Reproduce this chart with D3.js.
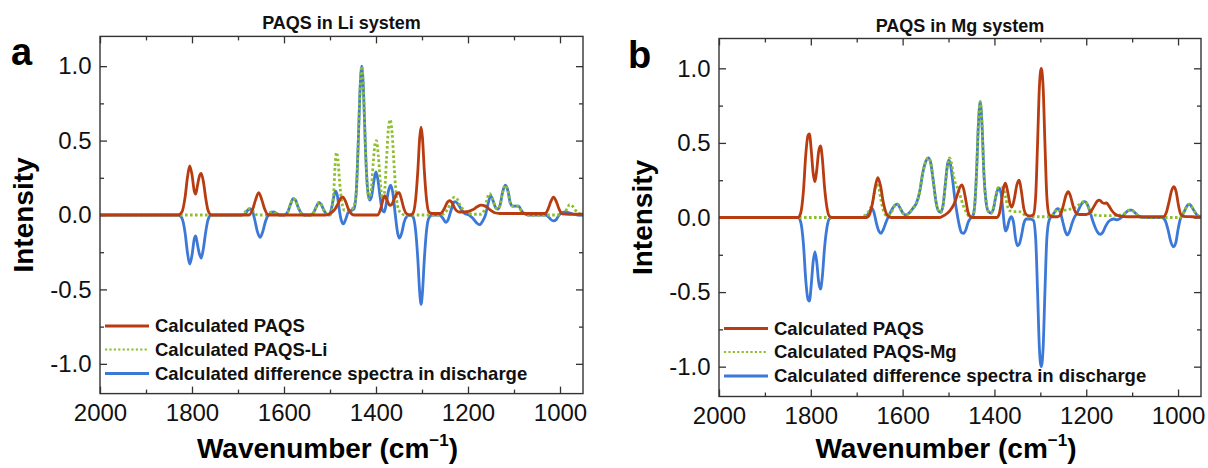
<!DOCTYPE html>
<html>
<head>
<meta charset="utf-8">
<script src="https://cdn.jsdelivr.net/npm/d3@7"></script>
<style>
  html, body { margin: 0; padding: 0; background: #fff; }
  svg { display: block; }
</style>
</head>
<body>
<div id="chart"></div>
<script>
// axis ticks
const xTickValues = [2000, 1800, 1600, 1400, 1200, 1000];
const xMinorValues = [1900, 1700, 1500, 1300, 1100];
const yTickValues = [1.0, 0.5, 0.0, -0.5, -1.0];
const yTickLabels = ['1.0', '0.5', '0.0', '-0.5', '-1.0'];
const yMinorValues = [0.75, 0.25, -0.25, -0.75];

const panelTitles = ['PAQS in Li system', 'PAQS in Mg system'];
const panelLetters = ['a', 'b'];
const liLegend = ['Calculated PAQS', 'Calculated PAQS-Li', 'Calculated difference spectra in discharge'];
const mgLegend = ['Calculated PAQS', 'Calculated PAQS-Mg', 'Calculated difference spectra in discharge'];

// [wavenumber, intensity]
const liPaqs = [[2000,0],[1830,0],[1822,0.02],[1815,0.12],[1810,0.25],[1805,0.33],[1800,0.27],[1795,0.16],[1792,0.14],[1788,0.2],[1784,0.26],[1780,0.28],[1775,0.22],[1770,0.11],[1765,0.03],[1758,0],
  [1676,0],[1668,0.04],[1662,0.1],[1655,0.15],[1648,0.1],[1642,0.04],[1634,0],
  [1510,0],[1500,0.01],[1490,0.035],[1482,0.08],[1476,0.115],[1472,0.12],[1466,0.09],[1460,0.04],[1454,0.01],[1448,0],
  [1396,0],[1390,0.04],[1384,0.11],[1381,0.13],[1376,0.1],[1370,0.065],[1366,0.07],[1360,0.11],[1354,0.145],[1350,0.15],[1345,0.11],[1340,0.05],[1334,0.01],[1326,0],
  [1320,0.01],[1314,0.1],[1309,0.3],[1305,0.52],[1302,0.59],[1299,0.52],[1295,0.3],[1290,0.1],[1285,0.02],[1278,0.01],
  [1260,0.01],[1252,0.04],[1245,0.085],[1240,0.097],[1235,0.085],[1228,0.04],[1220,0.02],[1205,0.02],[1190,0.035],[1180,0.055],[1172,0.066],[1162,0.06],[1152,0.035],[1142,0.015],[1130,0.01],
  [1032,0.01],[1026,0.04],[1020,0.09],[1014,0.12],[1008,0.09],[1002,0.04],[996,0.01],[980,0.005],[950,0.005]];

const liPaqsLi = [[2000,0],[1695,0],[1688,0.01],[1680,0.035],[1674,0.045],[1668,0.03],[1662,0.005],[1656,0],[1640,0],[1634,0.01],[1627,0.02],[1620,0.015],[1612,0],
  [1600,0],[1592,0.02],[1586,0.07],[1580,0.11],[1575,0.1],[1569,0.05],[1562,0.01],[1556,0],
  [1542,0],[1535,0.02],[1529,0.06],[1524,0.085],[1519,0.07],[1513,0.03],[1507,0.005],[1500,0],
  [1496,0.03],[1492,0.15],[1489,0.33],[1486,0.42],[1483,0.38],[1479,0.22],[1474,0.08],[1468,0.03],[1460,0.03],[1452,0.04],[1446,0.08],[1442,0.2],[1439,0.45],[1435,0.82],[1431,1.0],[1427,0.82],[1423,0.45],[1419,0.2],[1415,0.11],[1411,0.15],[1406,0.35],[1402,0.48],[1399,0.5],[1395,0.4],[1390,0.2],[1386,0.11],[1382,0.14],[1377,0.38],[1373,0.58],[1369,0.64],[1365,0.55],[1360,0.3],[1355,0.1],[1350,0.03],[1344,0.01],[1338,0],
  [1262,0],[1252,0.01],[1244,0.04],[1236,0.09],[1230,0.12],[1224,0.11],[1218,0.07],[1210,0.035],[1200,0.015],[1190,0.005],[1172,0.005],[1165,0.03],[1159,0.1],[1153,0.145],[1147,0.11],[1140,0.05],[1135,0.04],[1130,0.07],[1125,0.15],[1119,0.2],[1113,0.16],[1108,0.08],[1103,0.06],[1096,0.06],[1090,0.06],[1084,0.03],[1078,0.01],[1070,0],
  [1000,0],[992,0.01],[985,0.04],[979,0.07],[973,0.06],[966,0.03],[958,0.01],[950,0]];

const liDiff = [[2000,0],[1830,0],[1822,-0.02],[1815,-0.12],[1810,-0.25],[1805,-0.33],[1800,-0.27],[1795,-0.16],[1792,-0.14],[1788,-0.2],[1784,-0.26],[1780,-0.29],[1775,-0.22],[1770,-0.11],[1765,-0.03],[1758,0],
  [1692,0],[1684,0.01],[1678,0.035],[1673,0.04],[1668,0.02],[1663,-0.04],[1658,-0.11],[1652,-0.15],[1646,-0.11],[1640,-0.04],[1634,0],[1628,0.015],[1622,0.02],[1616,0.01],[1608,0],
  [1600,0],[1592,0.02],[1586,0.07],[1580,0.11],[1575,0.1],[1569,0.05],[1562,0.01],[1556,0],
  [1542,0],[1535,0.02],[1529,0.06],[1524,0.085],[1519,0.07],[1513,0.03],[1507,0.005],[1502,0],
  [1497,0.04],[1492,0.12],[1488,0.16],[1484,0.13],[1480,0.04],[1476,-0.03],[1471,-0.06],[1466,-0.03],[1460,0.02],[1454,0.03],[1448,0.04],[1443,0.15],[1439,0.45],[1435,0.82],[1431,1.0],[1427,0.82],[1423,0.45],[1419,0.2],[1414,0.1],[1410,0.12],[1405,0.22],[1400,0.29],[1396,0.24],[1391,0.12],[1386,0.03],[1382,0.02],[1378,0.07],[1373,0.16],[1368,0.2],[1363,0.14],[1358,0],[1353,-0.12],[1349,-0.155],[1344,-0.12],[1339,-0.05],[1333,-0.01],[1326,0],
  [1320,-0.01],[1314,-0.1],[1309,-0.3],[1305,-0.52],[1302,-0.6],[1299,-0.52],[1295,-0.3],[1290,-0.1],[1285,-0.02],[1278,0],
  [1262,0],[1255,-0.02],[1248,-0.05],[1243,-0.03],[1237,0.03],[1232,0.08],[1228,0.09],[1222,0.075],[1215,0.04],[1207,0.01],[1198,0],[1190,-0.02],[1182,-0.05],[1175,-0.065],[1168,-0.04],[1162,0],[1156,0.08],[1151,0.13],[1146,0.1],[1140,0.05],[1135,0.04],[1130,0.07],[1125,0.15],[1119,0.2],[1113,0.16],[1108,0.08],[1103,0.06],[1096,0.06],[1090,0.06],[1084,0.03],[1078,0.01],[1070,0],
  [1032,0],[1026,-0.01],[1020,-0.03],[1014,-0.04],[1008,-0.03],[1002,0],[996,0.015],[988,0.02],[980,0.015],[970,0.005],[960,0],[950,0]];

const mgPaqs = [[2000,0],[1828,0],[1822,0.03],[1816,0.18],[1811,0.42],[1806,0.55],[1803,0.56],[1799,0.45],[1795,0.3],[1791,0.24],[1787,0.32],[1783,0.44],[1779,0.48],[1775,0.4],[1770,0.2],[1765,0.07],[1760,0.01],[1754,0],
  [1678,0],[1672,0.02],[1666,0.09],[1660,0.2],[1654,0.267],[1648,0.21],[1642,0.1],[1636,0.03],[1630,0.005],[1624,0],
  [1520,0],[1512,0.01],[1504,0.025],[1496,0.05],[1488,0.09],[1481,0.15],[1475,0.205],[1471,0.218],[1467,0.19],[1462,0.11],[1457,0.03],[1451,0.003],[1445,0],
  [1395,0],[1390,0.02],[1385,0.1],[1380,0.2],[1376,0.23],[1371,0.17],[1366,0.09],[1362,0.07],[1357,0.12],[1351,0.22],[1346,0.25],[1341,0.17],[1336,0.06],[1330,0.018],[1322,0.01],[1315,0.02],[1310,0.15],[1306,0.5],[1302,0.88],[1298,1.0],[1294,0.88],[1290,0.5],[1286,0.15],[1281,0.02],[1274,0.005],
  [1262,0.005],[1256,0.02],[1250,0.08],[1244,0.15],[1239,0.173],[1234,0.14],[1228,0.07],[1222,0.03],[1215,0.02],[1200,0.02],[1190,0.04],[1182,0.08],[1176,0.11],[1171,0.117],[1165,0.1],[1160,0.095],[1156,0.098],[1151,0.08],[1144,0.045],[1136,0.02],[1127,0.01],[1110,0.005],
  [1032,0.005],[1026,0.03],[1020,0.1],[1014,0.18],[1009,0.206],[1004,0.17],[999,0.08],[994,0.02],[988,0.008],[970,0.005],[950,0.003]];

const mgPaqsMg = [[2000,0],[1695,0],[1688,0.005],[1680,0.02],[1674,0.04],[1669,0.07],[1664,0.12],[1660,0.19],[1656,0.22],[1652,0.2],[1648,0.13],[1643,0.06],[1638,0.02],[1632,0.01],[1626,0.03],[1620,0.06],[1616,0.085],[1611,0.09],[1605,0.06],[1598,0.025],[1592,0.017],[1586,0.03],[1578,0.06],[1570,0.095],[1563,0.17],[1556,0.3],[1549,0.38],[1544,0.4],[1539,0.37],[1533,0.24],[1527,0.1],[1521,0.04],[1517,0.035],[1512,0.08],[1507,0.22],[1502,0.35],[1498,0.4],[1494,0.37],[1489,0.28],[1484,0.22],[1479,0.19],[1474,0.14],[1468,0.08],[1462,0.04],[1456,0.01],[1450,0.005],[1447,0.01],[1443,0.08],[1439,0.3],[1435,0.62],[1431,0.776],[1427,0.62],[1423,0.3],[1418,0.1],[1413,0.04],[1407,0.03],[1402,0.07],[1397,0.15],[1392,0.2],[1386,0.2],[1381,0.2],[1376,0.14],[1371,0.07],[1366,0.045],[1358,0.04],[1348,0.04],[1340,0.035],[1334,0.015],[1328,0.005],[1280,0.005],
  [1272,0.02],[1266,0.045],[1261,0.055],[1254,0.05],[1246,0.05],[1238,0.055],[1230,0.06],[1222,0.07],[1214,0.09],[1207,0.105],[1203,0.11],[1198,0.09],[1192,0.05],[1186,0.025],[1178,0.015],[1165,0.012],[1150,0.012],[1135,0.015],[1128,0.015],[1120,0.02],[1113,0.035],[1106,0.05],[1101,0.05],[1095,0.035],[1088,0.015],[1081,0.003],[1070,0],
  [995,0],[990,0.02],[985,0.05],[980,0.08],[975,0.09],[970,0.07],[964,0.04],[958,0.015],[950,0.005]];

const mgDiff = [[2000,0],[1828,0],[1822,-0.03],[1816,-0.18],[1811,-0.42],[1806,-0.55],[1803,-0.56],[1799,-0.45],[1795,-0.3],[1791,-0.23],[1787,-0.3],[1783,-0.43],[1779,-0.48],[1775,-0.4],[1770,-0.2],[1765,-0.07],[1760,-0.01],[1754,0],
  [1690,0],[1682,0.005],[1676,0.02],[1670,0.05],[1666,0.06],[1662,0.03],[1657,-0.04],[1652,-0.09],[1647,-0.106],[1642,-0.08],[1636,-0.03],[1629,0.02],[1622,0.06],[1616,0.085],[1611,0.09],[1605,0.06],[1598,0.025],[1592,0.017],[1586,0.03],[1578,0.06],[1570,0.095],[1563,0.17],[1556,0.3],[1549,0.38],[1544,0.4],[1539,0.37],[1533,0.24],[1527,0.1],[1521,0.04],[1517,0.035],[1512,0.08],[1507,0.22],[1503,0.34],[1500,0.385],[1496,0.36],[1491,0.25],[1486,0.12],[1481,0.02],[1476,-0.06],[1472,-0.1],[1467,-0.106],[1462,-0.08],[1457,-0.03],[1452,-0.005],[1447,0.01],[1443,0.08],[1439,0.3],[1435,0.62],[1431,0.776],[1427,0.62],[1423,0.3],[1418,0.1],[1413,0.04],[1407,0.03],[1402,0.06],[1397,0.14],[1392,0.19],[1389,0.196],[1385,0.15],[1381,0.03],[1378,-0.06],[1376,-0.09],[1372,-0.07],[1368,-0.02],[1363,0.005],[1358,-0.04],[1354,-0.14],[1350,-0.19],[1346,-0.18],[1341,-0.12],[1336,-0.04],[1330,-0.01],[1322,-0.01],[1315,-0.02],[1310,-0.15],[1306,-0.5],[1302,-0.88],[1298,-1.0],[1294,-0.88],[1290,-0.5],[1286,-0.15],[1281,-0.02],[1275,0.01],
  [1270,0.03],[1265,0.055],[1261,0.06],[1256,0.03],[1251,-0.03],[1246,-0.09],[1241,-0.117],[1236,-0.09],[1231,-0.04],[1226,0],[1220,0.03],[1214,0.07],[1208,0.1],[1203,0.106],[1198,0.09],[1192,0.04],[1186,-0.02],[1180,-0.07],[1175,-0.1],[1170,-0.113],[1164,-0.1],[1158,-0.06],[1152,-0.03],[1146,-0.015],[1140,-0.01],[1134,-0.015],[1128,-0.01],[1120,0.01],[1113,0.035],[1106,0.05],[1101,0.05],[1095,0.035],[1088,0.015],[1081,0.003],[1070,0],
  [1035,0],[1028,-0.02],[1022,-0.08],[1016,-0.16],[1010,-0.196],[1005,-0.17],[1000,-0.08],[995,-0.01],[990,0.02],[985,0.05],[980,0.08],[975,0.09],[970,0.07],[964,0.04],[958,0.015],[950,0.005]];

const FONT = '"Liberation Sans", Arial, Helvetica, sans-serif';
const RED = '#b83c10', GREEN = '#8cbf2a', BLUE = '#3b78d8', FRAME = '#333';

const svg = d3.select('#chart').append('svg')
    .attr('width', 1208)
    .attr('height', 468)
    .attr('font-family', FONT);

function drawPanel(opt) {
    const x = d3.scaleLinear().domain([2000, 950]).range([opt.left, opt.right]);
    const y = d3.scaleLinear().domain([-1.2, 1.2]).range([opt.bottom, opt.top]);
    const g = svg.append('g');

    g.append('clipPath').attr('id', 'clip-' + opt.letter)
        .append('rect')
        .attr('x', opt.left).attr('y', opt.top)
        .attr('width', opt.right - opt.left).attr('height', opt.bottom - opt.top);

    // ticks point inward on all four sides
    const axes = [
        { axis: d3.axisBottom(x).tickValues(xTickValues).tickFormat(d3.format('d')), pos: `translate(0,${opt.bottom})`, size: 7, pad: 10 },
        { axis: d3.axisBottom(x).tickValues(xMinorValues).tickFormat(''), pos: `translate(0,${opt.bottom})`, size: 4 },
        { axis: d3.axisTop(x).tickValues(xTickValues).tickFormat(''), pos: `translate(0,${opt.top})`, size: 7 },
        { axis: d3.axisTop(x).tickValues(xMinorValues).tickFormat(''), pos: `translate(0,${opt.top})`, size: 4 },
        { axis: d3.axisLeft(y).tickValues(yTickValues).tickFormat((d, i) => yTickLabels[i]), pos: `translate(${opt.left},0)`, size: 7, pad: 8.5 },
        { axis: d3.axisLeft(y).tickValues(yMinorValues).tickFormat(''), pos: `translate(${opt.left},0)`, size: 4 },
        { axis: d3.axisRight(y).tickValues(yTickValues).tickFormat(''), pos: `translate(${opt.right},0)`, size: 7 },
        { axis: d3.axisRight(y).tickValues(yMinorValues).tickFormat(''), pos: `translate(${opt.right},0)`, size: 4 }
    ];
    axes.forEach(a => {
        const ag = g.append('g')
            .attr('transform', a.pos)
            .call(a.axis.tickSize(-a.size).tickPadding(a.pad || 3));
        ag.attr('font-family', FONT).attr('font-size', 24).attr('color', FRAME);
        ag.select('.domain').remove();
        ag.selectAll('.tick line').attr('stroke-width', 1.3);
        ag.selectAll('.tick text').attr('fill', '#111');
    });

    const line = d3.line()
        .x(d => x(d[0]))
        .y(d => y(d[1]))
        .curve(d3.curveMonotoneX);

    const plot = g.append('g').attr('clip-path', `url(#clip-${opt.letter})`);
    plot.append('path').datum(opt.diff)
        .attr('d', line).attr('fill', 'none')
        .attr('stroke', BLUE).attr('stroke-width', 2.8).attr('stroke-linejoin', 'round');
    plot.append('path').datum(opt.ion)
        .attr('d', line).attr('fill', 'none')
        .attr('stroke', GREEN).attr('stroke-width', 2.8).attr('stroke-dasharray', '2.6,2.4');
    plot.append('path').datum(opt.paqs)
        .attr('d', line).attr('fill', 'none')
        .attr('stroke', RED).attr('stroke-width', 2.8).attr('stroke-linejoin', 'round');

    g.append('rect')
        .attr('x', opt.left).attr('y', opt.top)
        .attr('width', opt.right - opt.left).attr('height', opt.bottom - opt.top)
        .attr('fill', 'none').attr('stroke', FRAME).attr('stroke-width', 1.4);

    // legend
    const legendStyles = [
        { color: RED, dash: null },
        { color: GREEN, dash: '2.2,2.2' },
        { color: BLUE, dash: null }
    ];
    const rows = [111, 134.5, 158.5];
    opt.legend.forEach((label, i) => {
        const ly = y(0) + rows[i];
        g.append('line')
            .attr('x1', opt.left + 5).attr('x2', opt.left + 49)
            .attr('y1', ly).attr('y2', ly)
            .attr('stroke', legendStyles[i].color)
            .attr('stroke-width', i === 1 ? 2.2 : 2.8)
            .attr('stroke-dasharray', legendStyles[i].dash);
        g.append('text')
            .attr('x', opt.left + 55).attr('y', ly)
            .attr('dy', '0.35em')
            .attr('font-size', 18.5).attr('font-weight', 'bold')
            .attr('fill', '#111')
            .text(label);
    });

    const cx = (opt.left + opt.right) / 2;
    g.append('text')
        .attr('x', cx).attr('y', opt.top - 7)
        .attr('text-anchor', 'middle')
        .attr('font-size', 18).attr('font-weight', 'bold')
        .attr('fill', '#111')
        .text(opt.title);

    g.append('text')
        .attr('x', opt.letterX).attr('y', opt.top + 29)
        .attr('font-size', 38).attr('font-weight', 'bold')
        .attr('fill', '#000')
        .text(opt.letter);

    g.append('text')
        .attr('transform', `translate(${opt.left - 67},${(opt.top + opt.bottom) / 2}) rotate(-90)`)
        .attr('text-anchor', 'middle')
        .attr('font-size', 28).attr('font-weight', 'bold')
        .attr('fill', '#000')
        .text('Intensity');

    const xt = g.append('text')
        .attr('x', cx - 14).attr('y', 458)
        .attr('text-anchor', 'middle')
        .attr('font-size', 28).attr('font-weight', 'bold')
        .attr('fill', '#000');
    xt.append('tspan').text('Wavenumber (cm');
    xt.append('tspan').attr('font-size', 17).attr('dy', -12).text('\u22121');
    xt.append('tspan').attr('dy', 12).text(')');
}

drawPanel({ left: 100, right: 583, top: 36.4, bottom: 393.6, letter: panelLetters[0], letterX: 11,
    title: panelTitles[0], legend: liLegend, paqs: liPaqs, ion: liPaqsLi, diff: liDiff });
drawPanel({ left: 719, right: 1201, top: 38.5, bottom: 396.5, letter: panelLetters[1], letterX: 628,
    title: panelTitles[1], legend: mgLegend, paqs: mgPaqs, ion: mgPaqsMg, diff: mgDiff });
</script>
</body>
</html>
